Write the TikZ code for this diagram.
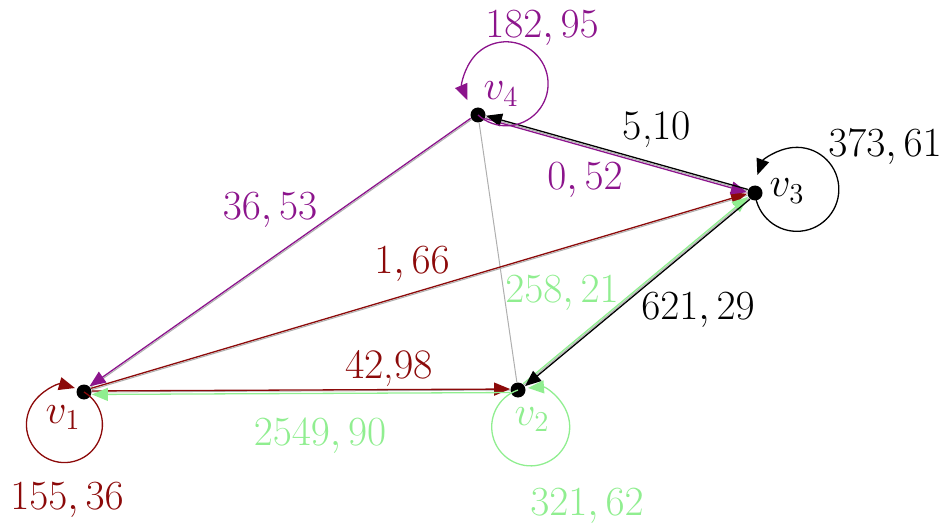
\documentclass[tikz,border=0pt]{standalone}
\usetikzlibrary{arrows.meta}
\definecolor{dred}{RGB}{140,10,10}
\definecolor{dpur}{RGB}{140,20,140}
\definecolor{lgrn}{RGB}{144,238,144}
\definecolor{lgry}{RGB}{175,175,175}
\begin{document}
\begin{tikzpicture}[x=0.5pt,y=-0.5pt,
  dot/.style={circle,fill=black,inner sep=0pt,minimum size=7.5pt},
  lab/.style={anchor=base,inner sep=0pt,font=\fontsize{21}{25}\selectfont},
  edge/.style={line width=0.65pt,-{Triangle[length=8pt,width=6.5pt]}},
  baseline/.style={draw=lgry,line width=0.5pt}]
\useasboundingbox (0,0) rectangle (949,524);
% vertices
\node[dot] (v1) at (84,392) {};
\node[dot] (v2) at (518,390) {};
\node[dot] (v3) at (755,193) {};
\node[dot] (v4) at (478,115) {};
% underlying gray edges
\draw[baseline] (v1) -- (v2);
\draw[baseline] (v1) -- (v3);
\draw[baseline] (v1) -- (v4);
\draw[baseline] (v2) -- (v3);
\draw[baseline] (v2) -- (v4);
\draw[baseline] (v3) -- (v4);
% directed edges
\draw[edge,dred,transform canvas={yshift=0.5pt}] (v1) -- (v2);
\draw[edge,lgrn,transform canvas={yshift=-1.25pt}] (v2) -- (v1);
\draw[edge,dred,transform canvas={xshift=-0.21pt,yshift=0.72pt}] (v1) -- (v3);
\draw[edge,dpur,transform canvas={xshift=-0.45pt,yshift=0.6pt}] (v4) -- (v1);
\draw[edge,dpur,transform canvas={xshift=-0.2pt,yshift=-0.72pt}] (v4) -- (v3);
\draw[edge,black,transform canvas={xshift=0.2pt,yshift=0.72pt}] (v3) -- (v4);
\draw[edge,lgrn,transform canvas={xshift=-0.48pt,yshift=0.58pt}] (v2) -- (v3);
\draw[edge,black,transform canvas={xshift=0.48pt,yshift=-0.58pt}] (v3) -- (v2);
% loops
\draw[edge,dred] (v1.center) arc[start angle=59,end angle=-286,radius=19pt];
\draw[edge,lgrn] (v2.center) arc[start angle=109,end angle=454,radius=19.5pt];
\draw[edge,black] (v3.center) arc[start angle=185,end angle=520,radius=21pt];
\draw[edge,dpur] (v4.center) arc[start angle=228,end angle=563,radius=21pt];
% labels
\node[lab,dpur] (l4) at (542,38) {$182, 95$};
\node[lab,dpur] (n4) at (501,100) {$v_4$};
\node[lab] (l34) at (657,140) {5,10};
\node[lab,dpur] (l43) at (585,190) {$0, 52$};
\node[lab] (l3) at (885,157) {$373, 61$};
\node[lab] (n3) at (787,197) {$v_3$};
\node[lab,dpur] (l41) at (270,220) {$36, 53$};
\node[lab,dred] (l13) at (412,273) {$1, 66$};
\node[lab,dred] (l12) at (389,378) {42,98};
\node[lab,lgrn] (l23) at (562,302) {$258, 21$};
\node[lab] (l32) at (698,320) {$621, 29$};
\node[lab,lgrn] (l21) at (320,445) {$2549, 90$};
\node[lab,dred] (n1) at (63,423) {$v_1$};
\node[lab,dred] (l1) at (67,509) {$155, 36$};
\node[lab,lgrn] (n2) at (532,425) {$v_2$};
\node[lab,lgrn] (l2) at (587,515) {$321, 62$};
\end{tikzpicture}
\end{document}
